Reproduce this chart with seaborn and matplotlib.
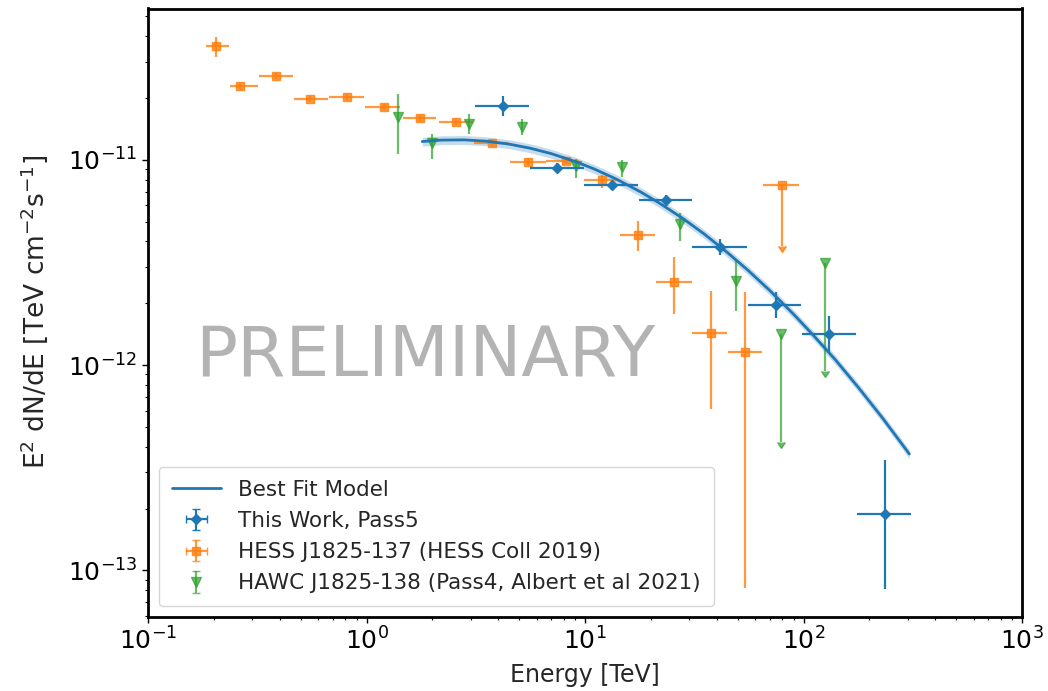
import numpy as np
import pandas as pd
import matplotlib
matplotlib.use("Agg")
import matplotlib.pyplot as plt
import seaborn as sns

# ---------------------------------------------------------------------------
# Best-fit spectral model, sampled in energy (TeV) -> E^2 dN/dE (TeV cm^-2 s^-1)
model_energy = [1.8, 2.2, 2.8, 3.5, 4.5, 5.6, 7.0, 9.0, 11.0, 14.0, 18.0, 22.0,
                28.0, 35.0, 45.0, 56.0, 70.0, 90.0, 110.0, 140.0, 180.0, 230.0, 305.0]
model_flux = [1.226e-11, 1.246e-11, 1.249e-11, 1.232e-11, 1.191e-11, 1.138e-11,
              1.071e-11, 9.81e-12, 9.02e-12, 8.02e-12, 6.96e-12, 6.13e-12,
              5.18e-12, 4.36e-12, 3.52e-12, 2.88e-12, 2.31e-12, 1.77e-12,
              1.41e-12, 1.06e-12, 7.68e-13, 5.52e-13, 3.69e-13]
# relative half-width of the model uncertainty band
model_band = [0.05] * len(model_energy)

# This work (Pass 5)
work_e = [4.20, 7.45, 13.3, 23.5, 41.5, 74.8, 131.0, 236.0]
work_e_lo = [3.14, 5.6, 9.88, 17.6, 31.0, 55.7, 98.5, 175.0]
work_e_hi = [5.56, 9.9, 17.4, 30.9, 55.2, 97.5, 174.0, 311.0]
work_f = [1.82e-11, 9.12e-12, 7.57e-12, 6.34e-12, 3.76e-12, 1.97e-12, 1.41e-12, 1.88e-13]
work_f_lo = [1.63e-11, 8.6e-12, 7.24e-12, 5.93e-12, 3.45e-12, 1.70e-12, 1.14e-12, 8.1e-14]
work_f_hi = [2.04e-11, 9.6e-12, 7.9e-12, 6.7e-12, 4.1e-12, 2.27e-12, 1.73e-12, 3.45e-13]

# HESS J1825-137 (HESS Collaboration 2019)
hess_e = [0.205, 0.264, 0.386, 0.551, 0.814, 1.20, 1.76, 2.58, 3.77, 5.47, 8.16,
          11.9, 17.4, 25.5, 37.8, 53.8, 79.8]
hess_e_lo = [0.184, 0.237, 0.322, 0.466, 0.672, 0.983, 1.47, 2.15, 3.12, 4.54, 6.65,
             9.88, 14.4, 21.1, 31.0, 45.1, 65.3]
hess_e_hi = [0.234, 0.318, 0.46, 0.665, 0.973, 1.43, 2.09, 3.06, 4.44, 6.6, 9.4,
             14.1, 20.9, 30.9, 44.8, 64.8, 95.7]
hess_f = [3.58e-11, 2.28e-11, 2.55e-11, 1.98e-11, 2.02e-11, 1.81e-11, 1.60e-11,
          1.52e-11, 1.21e-11, 9.8e-12, 9.9e-12, 8.0e-12, 4.30e-12, 2.55e-12,
          1.44e-12, 1.16e-12, 7.51e-12]
hess_f_lo = [3.16e-11, 2.20e-11, 2.47e-11, 1.92e-11, 1.96e-11, 1.75e-11, 1.55e-11,
             1.47e-11, 1.16e-11, 9.4e-12, 9.5e-12, 7.3e-12, 3.59e-12, 1.78e-12,
             6.1e-13, 8.2e-14, 3.8e-12]
hess_f_hi = [3.96e-11, 2.36e-11, 2.63e-11, 2.04e-11, 2.08e-11, 1.87e-11, 1.65e-11,
             1.57e-11, 1.26e-11, 1.02e-11, 1.03e-11, 8.4e-12, 5.03e-12, 3.36e-12,
             2.29e-12, 2.26e-12, 7.51e-12]
hess_ul = [False] * 16 + [True]

# HAWC J1825-138 (Pass 4, Albert et al. 2021)
hawc_e = [1.40, 1.99, 2.95, 5.13, 9.1, 14.8, 27.1, 48.9, 78.9, 126.0]
hawc_f = [1.62e-11, 1.20e-11, 1.50e-11, 1.44e-11, 9.3e-12, 9.2e-12, 4.84e-12,
          2.56e-12, 1.42e-12, 3.15e-12]
hawc_f_lo = [1.07e-11, 1.01e-11, 1.34e-11, 1.32e-11, 8.15e-12, 8.2e-12, 4.0e-12,
             1.83e-12, 4.2e-13, 9.4e-13]
hawc_f_hi = [2.09e-11, 1.34e-11, 1.67e-11, 1.57e-11, 1.01e-11, 1.00e-11, 5.5e-12,
             3.27e-12, 1.42e-12, 3.15e-12]
hawc_ul = [False] * 8 + [True, True]

labels = ["Best Fit Model", "This Work, Pass5",
          "HESS J1825-137 (HESS Coll 2019)",
          "HAWC J1825-138 (Pass4, Albert et al 2021)"]
x_ticks = [0.1, 1, 10, 100, 1000]
y_ticks = [1e-13, 1e-12, 1e-11]
# ---------------------------------------------------------------------------


def spread(center, lo, hi):
    c = np.asarray(center)
    return np.vstack([c - np.asarray(lo), np.asarray(hi) - c])


sns.set_theme(style="ticks")
plt.rcParams["font.family"] = ["DejaVu Sans"]
plt.rcParams["mathtext.fontset"] = "dejavusans"
pal = sns.color_palette("tab10")
c_work, c_hess, c_hawc = pal[0], pal[1], pal[2]

fig = plt.figure(figsize=(10.48, 6.91), dpi=100)
ax = fig.add_axes([148 / 1048, 1 - 617 / 691, 874 / 1048, 608.5 / 691])
ax.set_xscale("log")
ax.set_yscale("log")

# model curve and its band
model = pd.DataFrame({"energy": model_energy, "flux": model_flux})
band = np.asarray(model_band)
ax.fill_between(model["energy"], model["flux"] * (1 - band), model["flux"] * (1 + band),
                color=c_work, alpha=0.25, lw=0, zorder=2)
sns.lineplot(data=model, x="energy", y="flux", ax=ax, color=c_work, lw=2,
             label=labels[0], zorder=3, legend=False)

eb = dict(linestyle="none", elinewidth=1.6, capsize=0)

ax.errorbar(work_e, work_f, xerr=spread(work_e, work_e_lo, work_e_hi),
            yerr=spread(work_f, work_f_lo, work_f_hi), fmt="D", ms=5,
            color=c_work, zorder=4, **eb)

hess_low = [f - lo for f, lo in zip(hess_f, hess_f_lo)]
hess_up = [0 if ul else hi - f for f, hi, ul in zip(hess_f, hess_f_hi, hess_ul)]
ax.errorbar(hess_e, hess_f, xerr=spread(hess_e, hess_e_lo, hess_e_hi),
            yerr=np.vstack([hess_low, hess_up]), uplims=hess_ul, fmt="s", ms=6,
            color=c_hess, alpha=0.8, zorder=2.5, **eb)

hawc_low = [f - lo for f, lo in zip(hawc_f, hawc_f_lo)]
hawc_up = [0 if ul else hi - f for f, hi, ul in zip(hawc_f, hawc_f_hi, hawc_ul)]
ax.errorbar(hawc_e, hawc_f, yerr=np.vstack([hawc_low, hawc_up]), uplims=hawc_ul,
            fmt="v", ms=7, color=c_hawc, alpha=0.7, zorder=2.5, **eb)

# legend entries (capped error-bar icons)
proxy = dict(linestyle="none", elinewidth=1.6, capsize=3)
h_work = ax.errorbar([np.nan], [np.nan], xerr=[[1.0], [1.0]], yerr=[[1.0], [1.0]],
                     fmt="D", ms=5, color=c_work, **proxy)
h_hess = ax.errorbar([np.nan], [np.nan], xerr=[[1.0], [1.0]], yerr=[[1.0], [1.0]],
                     fmt="s", ms=6, color=c_hess, alpha=0.8, **proxy)
h_hawc = ax.errorbar([np.nan], [np.nan], yerr=[[1.0], [1.0]],
                     fmt="v", ms=7, color=c_hawc, alpha=0.7, **proxy)
h_model = ax.get_lines()[0]

ax.text(0.317, 0.397, "PRELIMINARY", transform=ax.transAxes, ha="center",
        va="baseline", fontsize=50, color="0.7", zorder=1)

ax.set_xticks(x_ticks)
ax.set_yticks(y_ticks)
ax.set_xlim(0.1, 1000)
ax.set_ylim(5.93e-14, 5.45e-11)
ax.set_xlabel("Energy [TeV]", fontsize=17)
ax.set_ylabel(r"E$^2$ dN/dE [TeV cm$^{-2}$s$^{-1}$]", fontsize=19)
ax.xaxis.set_label_coords(0.5, -0.076)
ax.yaxis.set_label_coords(-0.112, 0.502)
ax.tick_params(axis="both", which="major", labelsize=18, length=4, width=1, colors="black")
ax.tick_params(axis="both", which="minor", length=2.5, width=0.8, colors="black")
for s in ax.spines.values():
    s.set_linewidth(2)
    s.set_color("black")

ax.legend([h_model, h_work, h_hess, h_hawc], labels, loc="lower left",
          fontsize=15.5, labelspacing=0.52, borderpad=0.6, handlelength=2.3,
          frameon=True)

fig.savefig("out.png", dpi=100)
